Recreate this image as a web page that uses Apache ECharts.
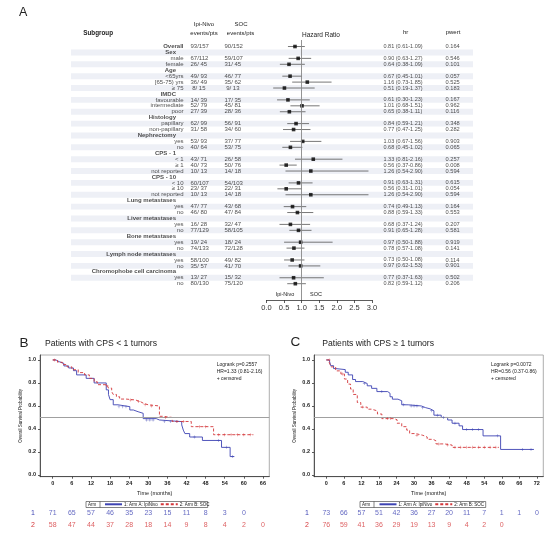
<!DOCTYPE html>
<html><head><meta charset="utf-8">
<script src="https://cdn.jsdelivr.net/npm/echarts@6/dist/echarts.min.js"></script>
<style>html,body{margin:0;padding:0;background:#fff}#c{width:554px;height:534px}</style>
</head><body><div id="c"></div>
<script>
// ---------------- DATA ----------------
const rowLabels = ['Overall','Sex','male','female','Age','<65yrs','[65-75) yrs','≥ 75','IMDC','favourable','intermediate','poor','Histology','papillary','non-papillary','Nephrectomy','yes','no','CPS - 1','< 1','≥ 1','not reported','CPS - 10','< 10','≥ 10','not reported','Lung metastases','yes','no','Liver metastases','yes','no','Bone metastases','yes','no','Lymph node metastases','yes','no','Chromophobe cell carcinoma','yes','no'];
const headerRows = [1,4,8,12,15,18,22,26,29,32,35,38];
const ipiEvents = ['93/157',null,'67/112','26/ 45',null,'49/ 93','36/ 49',' 8/ 15',null,'14/ 39','52/ 79','27/ 39',null,'62/ 99','31/ 58',null,'53/ 93','40/ 64',null,'43/ 71','40/ 73','10/ 13',null,'60/107','23/ 37','10/ 13',null,'47/ 77','46/ 80',null,'16/ 28','77/129',null,'19/ 24','74/133',null,'58/100','35/ 57',null,'13/ 27','80/130'];
const socEvents = ['90/152',null,'59/107','31/ 45',null,'46/ 77','35/ 62',' 9/ 13',null,'17/ 35','45/ 81','28/ 36',null,'56/ 91','34/ 60',null,'37/ 77','53/ 75',null,'26/ 58','50/ 76','14/ 18',null,'54/103','22/ 31','14/ 18',null,'43/ 68','47/ 84',null,'32/ 47','58/105',null,'18/ 24','72/128',null,'49/ 82','41/ 70',null,'15/ 32','75/120'];
const hrVals = [0.81,null,0.90,0.64,null,0.67,1.16,0.51,null,0.61,1.01,0.65,null,0.84,0.77,null,1.03,0.68,null,1.33,0.56,1.26,null,0.91,0.56,1.26,null,0.74,0.88,null,0.68,0.91,null,0.97,0.78,null,0.73,0.97,null,0.77,0.82];
const hrLo = [0.61,null,0.63,0.38,null,0.45,0.73,0.19,null,0.30,0.68,0.38,null,0.59,0.47,null,0.67,0.45,null,0.81,0.37,0.54,null,0.63,0.31,0.54,null,0.49,0.59,null,0.37,0.65,null,0.50,0.57,null,0.50,0.62,null,0.37,0.59];
const hrHi = [1.09,null,1.27,1.09,null,1.01,1.85,1.37,null,1.23,1.51,1.11,null,1.21,1.25,null,1.56,1.02,null,2.16,0.86,2.90,null,1.31,1.01,2.90,null,1.13,1.33,null,1.24,1.28,null,1.88,1.08,null,1.08,1.53,null,1.63,1.12];
const pVals = ['0.164',null,'0.546','0.101',null,'0.057','0.525','0.183',null,'0.167','0.962','0.116',null,'0.348','0.282',null,'0.903','0.065',null,'0.257','0.008','0.594',null,'0.615','0.054','0.594',null,'0.164','0.553',null,'0.207','0.581',null,'0.919','0.141',null,'0.114','0.901',null,'0.502','0.206'];
const hrTicks = [0, 0.5, 1, 1.5, 2, 2.5, 3];

const kmTicksB = [0,6,12,18,24,30,36,42,48,54,60,66];
const kmTicksC = [0,6,12,18,24,30,36,42,48,54,60,66,72];
const survTicks = [0,0.2,0.4,0.6,0.8,1.0];

// Panel B: CPS < 1  (A = Ipi-Nivo, B = SOC)
const kmB_A = [[0,1],[1,0.985],[2,0.97],[3.5,0.948],[5,0.93],[6.5,0.907],[7.5,0.87],[10.5,0.84],[13,0.80],[16.8,0.74],[17.5,0.70],[18,0.655],[19,0.61],[20.5,0.594],[24.2,0.565],[25.3,0.55],[26.8,0.536],[28.4,0.49],[32.5,0.478],[33.5,0.464],[40.5,0.435],[41,0.39],[41.5,0.36],[43,0.33],[47,0.30],[53,0.24],[55.7,0.16],[57,0.16]];
const kmB_B = [[0,1],[1.5,0.98],[3,0.96],[4.5,0.94],[6,0.915],[8,0.89],[10,0.87],[11.5,0.84],[13,0.81],[14,0.785],[17,0.775],[17.5,0.755],[18.5,0.725],[19,0.70],[20,0.68],[21,0.66],[23,0.652],[26,0.638],[27.5,0.623],[28.5,0.61],[30,0.60],[33.5,0.51],[34.5,0.50],[37.5,0.465],[43.5,0.42],[50.5,0.35],[63,0.35]];
const censB_A = [[20.8,0.594],[22,0.594],[23,0.594],[29.5,0.478],[30.5,0.478],[31.5,0.478],[35,0.464],[37,0.464],[39,0.464],[44.5,0.33],[52,0.30],[54.5,0.24],[56.5,0.16]];
const censB_B = [[0.5,1],[17,0.775],[24.5,0.652],[27,0.638],[29,0.61],[31,0.60],[35.5,0.50],[39,0.465],[41,0.465],[46,0.42],[48,0.42],[52,0.35],[54,0.35],[56,0.35],[58,0.35],[60,0.35],[62,0.35]];
const riskB_A = [71,65,57,46,35,23,15,11,8,3,0];
const riskB_B = [58,47,44,37,28,18,14,9,8,4,2,0];

// Panel C: CPS >= 1
const kmC_A = [[0,1],[1,0.985],[1.5,0.95],[2.5,0.925],[3.2,0.916],[6.5,0.893],[7.5,0.87],[9,0.83],[10,0.812],[12.5,0.795],[14,0.775],[15.5,0.753],[17.3,0.725],[21,0.71],[21.8,0.68],[22.6,0.659],[24.5,0.645],[25.8,0.61],[28,0.60],[32.5,0.585],[34,0.575],[35.5,0.558],[36.8,0.52],[39.3,0.50],[41.5,0.478],[43,0.45],[45.4,0.427],[46.6,0.395],[53.6,0.34],[59.6,0.222],[71,0.222]];
const kmC_B = [[0,1],[1,0.98],[1.6,0.94],[3.2,0.905],[5,0.878],[6.2,0.834],[7.3,0.79],[8.3,0.747],[9.2,0.70],[10.6,0.63],[11.8,0.59],[14,0.572],[15.5,0.557],[17.5,0.53],[19,0.49],[23.2,0.48],[24.2,0.45],[25.8,0.42],[27.5,0.39],[28.5,0.36],[30.5,0.345],[33,0.33],[34.5,0.31],[36.5,0.297],[37.5,0.27],[40.5,0.26],[43,0.24],[59,0.24]];
const censC_A = [[13,0.795],[19,0.725],[26.5,0.61],[29,0.60],[30,0.60],[31,0.60],[33,0.585],[36,0.558],[38,0.52],[40,0.50],[44,0.45],[48,0.395],[50,0.395],[52,0.395],[58.5,0.34],[67,0.222],[70,0.222]];
const censC_B = [[1,1],[5.5,0.878],[12.5,0.59],[21,0.49],[22,0.49],[31,0.345],[38.5,0.27],[41.5,0.26],[44,0.24],[46,0.24],[48,0.24],[50,0.24],[52,0.24],[54,0.24],[56,0.24],[58,0.24]];
const riskC_A = [73,66,57,51,42,36,27,20,11,7,1,1,0];
const riskC_B = [76,59,41,36,29,19,13,9,4,2,0];

const armNames = ['1: Arm A: IpiNivo', '2: Arm B: SOC'];
const logrankB = ['Logrank p=0.2557', 'HR=1.33 (0.81-2.16)', '+ censored'];
const logrankC = ['Logrank p=0.0072', 'HR=0.56 (0.37-0.86)', '+ censored'];

// ---------------- STYLE / LAYOUT ----------------
const FONT = "'Liberation Sans', Arial, sans-serif";
const BLUE = '#3d43b3';
const RED = '#d4373a';
const TXT = '#222';
const COL_LABEL = 184, COL_HEADER = 176.5, COL_IPI = 190, COL_SOC = 224, COL_HR = 383, COL_P = 445;
const ROW_MIN = -1.1, ROW_MAX = 42.75;

const chart = echarts.init(document.getElementById('c'), null, {renderer: 'canvas'});

function textSeries(items, side, bold, size) {
  return {
    type: 'scatter', xAxisIndex: 1, yAxisIndex: 1, symbolSize: 1, silent: true, z: 5,
    itemStyle: {color: 'rgba(0,0,0,0)'}, emphasis: {disabled: true},
    data: items,
    label: {show: true, position: side, distance: 0, formatter: p => p.value[2],
      fontSize: size, fontWeight: bold ? 'bold' : 'normal', color: TXT, fontFamily: FONT}
  };
}

const labelItems = [], headerItems = [], overallItems = [], ipiItems = [], socItems = [], hrItems = [], pItems = [];
const ciData = [], sqData = [], bandRows = [];
rowLabels.forEach((lab, i) => {
  if (headerRows.includes(i)) headerItems.push([COL_HEADER, i, lab]);
  else if (i === 0) overallItems.push([COL_LABEL, i, lab]);
  else labelItems.push([COL_LABEL, i, lab]);
  if (ipiEvents[i] != null) ipiItems.push([COL_IPI, i, ipiEvents[i]]);
  if (socEvents[i] != null) socItems.push([COL_SOC, i, socEvents[i]]);
  if (hrVals[i] != null) {
    hrItems.push([COL_HR, i, hrVals[i].toFixed(2) + ' (' + hrLo[i].toFixed(2) + '-' + hrHi[i].toFixed(2) + ')']);
    ciData.push([hrLo[i], hrHi[i], i]);
    sqData.push([hrVals[i], i]);
  }
  if (pVals[i] != null) pItems.push([COL_P, i, pVals[i]]);
  if (i % 2 === 1) bandRows.push([i]);
});

function kmX(gi, min, max, ticks) {
  return {gridIndex: gi, type: 'value', min, max,
    name: 'Time (months)', nameLocation: 'middle', nameGap: 14,
    nameTextStyle: {fontSize: 5.5, color: TXT, fontFamily: FONT},
    axisLine: {show: true, onZero: false, lineStyle: {color: '#333', width: 0.8}},
    axisTick: {show: true, length: 2, customValues: ticks, lineStyle: {color: '#333', width: 0.8}},
    axisLabel: {customValues: ticks, fontSize: 5.5, fontWeight: 'bold', color: TXT, margin: 4, fontFamily: FONT},
    splitLine: {show: false}};
}
function kmY(gi) {
  return {gridIndex: gi, type: 'value', min: -0.015, max: 1.043,
    name: 'Overall Survival Probability', nameLocation: 'middle', nameGap: 17,
    nameTextStyle: {fontSize: 4.5, color: TXT, fontFamily: FONT},
    axisLine: {show: true, onZero: false, lineStyle: {color: '#333', width: 0.8}},
    axisTick: {show: true, length: 2, customValues: survTicks, lineStyle: {color: '#333', width: 0.8}},
    axisLabel: {customValues: survTicks, formatter: v => v.toFixed(1), fontSize: 5.5, fontWeight: 'bold', color: TXT, margin: 4, fontFamily: FONT},
    splitLine: {show: false}};
}
function riskY(gi) {
  return {gridIndex: gi, type: 'category', data: ['1', '2'], inverse: true,
    axisLine: {show: false}, axisTick: {show: false},
    axisLabel: {fontSize: 7, margin: 5, fontFamily: FONT, color: (v) => v === '1' ? BLUE : RED}};
}
function kmLine(name, data, xi, color, dashed, withRef) {
  const s = {type: 'line', name, xAxisIndex: xi, yAxisIndex: xi, data, step: 'end', symbol: 'none',
    silent: true, emphasis: {disabled: true}, z: 4,
    lineStyle: {color, width: 0.9, type: dashed ? [3, 2] : 'solid'}, itemStyle: {color}};
  if (withRef) s.markLine = {silent: true, symbol: 'none', label: {show: false},
    lineStyle: {color: '#a0a0a0', width: 1, type: 'solid'}, data: [{yAxis: 0.5}]};
  return s;
}
const PLUS = 'path://M-0.15,-1H0.15V-0.15H1V0.15H0.15V1H-0.15V0.15H-1V-0.15H-0.15Z';
function censor(data, xi, color) {
  return {type: 'scatter', xAxisIndex: xi, yAxisIndex: xi, data, symbol: PLUS, symbolSize: 3,
    itemStyle: {color}, silent: true, emphasis: {disabled: true}, z: 5};
}
function riskSeries(vals, ticks, row, gi, color) {
  return {type: 'scatter', xAxisIndex: gi, yAxisIndex: gi, symbolSize: 1, silent: true,
    itemStyle: {color: 'rgba(0,0,0,0)'}, emphasis: {disabled: true},
    data: vals.map((n, k) => [ticks[k], row, n]),
    label: {show: true, position: 'inside', formatter: p => String(p.value[2]), fontSize: 7, color, fontFamily: FONT}};
}
function T(text, x, y, size, opts) {
  opts = opts || {};
  return {type: 'text', x, y, silent: true, z: 10,
    style: {text, font: (opts.bold ? 'bold ' : '') + size + 'px ' + FONT, fill: opts.fill || TXT,
      align: opts.align || 'left', verticalAlign: 'middle'}};
}
function legendBox(x0, w) {
  return [
    {type: 'rect', silent: true, shape: {x: x0, y: 501.5, width: w, height: 6}, style: {fill: 'none', stroke: '#333', lineWidth: 0.6}},
    {type: 'line', silent: true, shape: {x1: x0 + 14, y1: 501.5, x2: x0 + 14, y2: 507.5}, style: {stroke: '#333', lineWidth: 0.6}},
    T('Arm', x0 + 2, 504.6, 4.5)
  ];
}

const graphic = [
  T('A', 19, 12.5, 12.5),
  T('Subgroup', 83.3, 33, 6.3, {bold: true}),
  T('Ipi-Nivo', 204, 24.3, 6, {align: 'center'}),
  T('events/pts', 204, 33, 6, {align: 'center'}),
  T('SOC', 241, 24.3, 6, {align: 'center'}),
  T('events/pts', 240.5, 33, 6, {align: 'center'}),
  T('Hazard Ratio', 321, 35, 6.5, {align: 'center'}),
  T('hr', 405.7, 32.5, 6, {align: 'center'}),
  T('pwert', 453, 32.5, 6, {align: 'center'}),
  T('Ipi-Nivo', 285, 294.5, 5.5, {align: 'center'}),
  T('SOC', 316, 294.5, 5.5, {align: 'center'}),
  T('B', 19.5, 343, 13.5),
  T('Patients with CPS < 1 tumors', 45, 343.5, 8.6),
  T('C', 290.5, 342, 13.5),
  T('Patients with CPS ≥ 1 tumors', 322.3, 343.5, 8.6),
  ...logrankB.map((t, k) => T(t, 216.7, 365 + 6.6 * k, 5)),
  ...logrankC.map((t, k) => T(t, 491, 365 + 6.6 * k, 5)),
  ...legendBox(86, 121.7),
  ...legendBox(360, 125.7)
];

const legendCommon = {data: armNames, top: 501.8, itemWidth: 17, itemHeight: 5, itemGap: 2, padding: 0,
  selectedMode: false, itemStyle: {opacity: 0, borderWidth: 0},
  textStyle: {fontSize: 4.5, color: TXT, fontFamily: FONT, padding: [0, 0, 0, -3]}};

const option = {
  animation: false,
  backgroundColor: '#fff',
  textStyle: {fontFamily: FONT},
  graphic,
  legend: [Object.assign({left: 104}, legendCommon), Object.assign({left: 378.5}, legendCommon)],
  grid: [
    {left: 266.5, width: 105.5, top: 40, height: 260},
    {left: 0, width: 554, top: 40, height: 260},
    {left: 40, width: 229.3, top: 355, height: 121.7, show: true, borderColor: '#999', borderWidth: 0.8, backgroundColor: 'transparent'},
    {left: 314, width: 229.3, top: 355, height: 121.7, show: true, borderColor: '#999', borderWidth: 0.8, backgroundColor: 'transparent'},
    {left: 40, width: 229.3, top: 506.6, height: 24.6},
    {left: 314, width: 229.3, top: 506.6, height: 24.6}
  ],
  xAxis: [
    {gridIndex: 0, type: 'value', min: 0, max: 3, interval: 0.5,
      axisLine: {show: true, onZero: false, lineStyle: {color: '#333', width: 0.8}},
      axisTick: {show: true, length: 3, lineStyle: {color: '#333', width: 0.8}},
      axisLabel: {fontSize: 7.5, color: '#333', margin: 4, formatter: v => v.toFixed(1), fontFamily: FONT},
      splitLine: {show: false}},
    {gridIndex: 1, type: 'value', min: 0, max: 554, show: false},
    kmX(2, -4, 68, kmTicksB),
    kmX(3, -4.2, 74.2, kmTicksC),
    {gridIndex: 4, type: 'value', min: -4, max: 68, show: false},
    {gridIndex: 5, type: 'value', min: -4.2, max: 74.2, show: false}
  ],
  yAxis: [
    {gridIndex: 0, type: 'value', min: ROW_MIN, max: ROW_MAX, inverse: true, show: false},
    {gridIndex: 1, type: 'value', min: ROW_MIN, max: ROW_MAX, inverse: true, show: false},
    kmY(2), kmY(3), riskY(4), riskY(5)
  ],
  series: [
    // table bands
    {type: 'custom', xAxisIndex: 1, yAxisIndex: 1, silent: true, z: 1, data: bandRows,
      encode: {y: 0},
      renderItem: (params, api) => {
        const r = api.value(0);
        const a = api.coord([71, r - 0.5]);
        const b = api.coord([473, r + 0.5]);
        return {type: 'rect', shape: {x: a[0], y: a[1], width: b[0] - a[0], height: b[1] - a[1]},
          style: {fill: '#eef0f6'}};
      }},
    // CI lines
    {type: 'custom', xAxisIndex: 0, yAxisIndex: 0, silent: true, z: 3, data: ciData,
      encode: {x: [0, 1], y: 2},
      renderItem: (params, api) => {
        const a = api.coord([api.value(0), api.value(2)]);
        const b = api.coord([api.value(1), api.value(2)]);
        return {type: 'line', shape: {x1: a[0], y1: a[1], x2: b[0], y2: b[1]},
          style: {stroke: '#555', lineWidth: 0.8}};
      }},
    // HR squares + reference line at 1
    {type: 'scatter', xAxisIndex: 0, yAxisIndex: 0, data: sqData, symbol: 'rect', symbolSize: 3.6,
      itemStyle: {color: '#000'}, silent: true, z: 4, emphasis: {disabled: true},
      markLine: {silent: true, symbol: 'none', label: {show: false},
        lineStyle: {color: '#888', width: 0.9, type: 'solid'}, data: [{xAxis: 1}]}},
    textSeries(labelItems, 'left', false, 6),
    textSeries(overallItems, 'left', true, 6),
    textSeries(headerItems, 'left', true, 6),
    textSeries(ipiItems, 'right', false, 6),
    textSeries(socItems, 'right', false, 6),
    textSeries(hrItems, 'right', false, 5.5),
    textSeries(pItems, 'right', false, 5.7),
    // KM B
    kmLine(armNames[0], kmB_A, 2, BLUE, false, true),
    kmLine(armNames[1], kmB_B, 2, RED, true, false),
    censor(censB_A, 2, BLUE),
    censor(censB_B, 2, RED),
    // KM C
    kmLine(armNames[0], kmC_A, 3, BLUE, false, true),
    kmLine(armNames[1], kmC_B, 3, RED, true, false),
    censor(censC_A, 3, BLUE),
    censor(censC_B, 3, RED),
    // numbers at risk
    riskSeries(riskB_A, kmTicksB, 0, 4, BLUE),
    riskSeries(riskB_B, kmTicksB, 1, 4, RED),
    riskSeries(riskC_A, kmTicksC, 0, 5, BLUE),
    riskSeries(riskC_B, kmTicksC, 1, 5, RED)
  ]
};
chart.setOption(option);
</script>
</body></html>
